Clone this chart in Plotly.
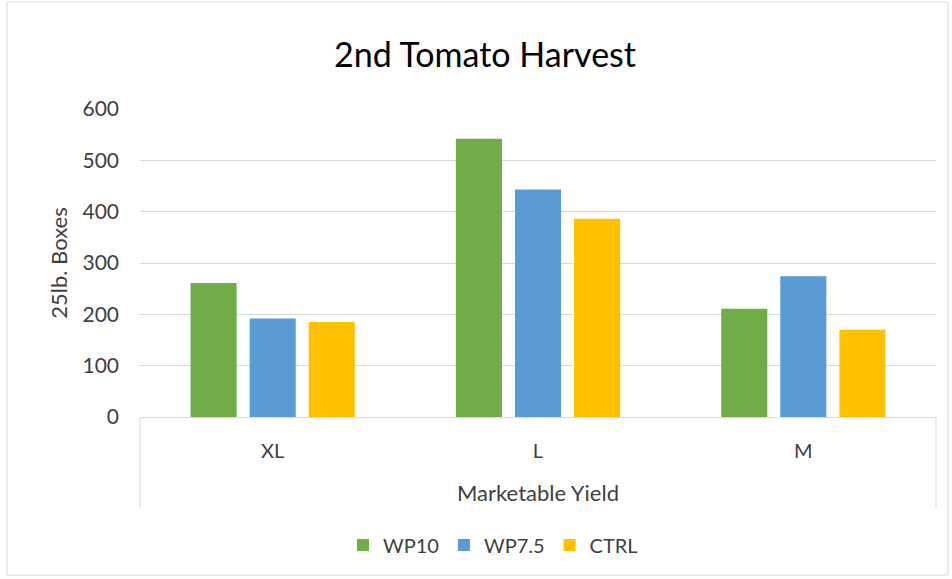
import plotly.graph_objects as go

categories = ["XL", "L", "M"]
series_names = ["WP10", "WP7.5", "CTRL"]
wp10 = [261, 542, 211]
wp75 = [192, 443, 274]
ctrl = [185, 386, 170]
colors = ["#70AD47", "#5B9BD5", "#FFC000"]
y_ticks = [0, 100, 200, 300, 400, 500, 600]

font_family = "Lato, Open Sans, Arial"
text_color = "#404040"

L, R, T, B = 140, 936, 109, 417
W, H = 952, 579
pw, ph = R - L, B - T

def px(xp):
    return (xp - L) / pw

def py(yp):
    return (B - yp) / ph

fig = go.Figure()
for name, vals, col in zip(series_names, [wp10, wp75, ctrl], colors):
    fig.add_trace(go.Bar(x=categories, y=vals, name=name, marker=dict(color=col, line=dict(width=0))))

fig.update_layout(
    width=W, height=H,
    margin=dict(l=L, r=W - R, t=T, b=H - B, autoexpand=False),
    paper_bgcolor="white", plot_bgcolor="white",
    barmode="group", bargap=0.332, bargroupgap=0.22,
    font=dict(family=font_family, color=text_color, size=20),
    title=dict(text="2nd Tomato Harvest", x=485 / W, xref="container", xanchor="center",
               y=1 - 55 / H, yref="container", yanchor="middle",
               font=dict(size=34, color="#000000", family=font_family)),
    legend=dict(orientation="h", x=px(493), xanchor="center", y=py(545), yanchor="middle",
                font=dict(size=20, color=text_color), traceorder="normal"),
    xaxis=dict(type="category", showline=True, linecolor="#d9d9d9", linewidth=1,
               ticks="", tickfont=dict(size=20, color=text_color), ticklabelstandoff=16,
               automargin=False,
               title=dict(text="Marketable Yield", font=dict(size=22, color=text_color), standoff=24)),
    yaxis=dict(range=[0, 600], tickvals=y_ticks, showgrid=True, gridcolor="#d9d9d9", gridwidth=1,
               zeroline=False, ticks="", tickfont=dict(size=21, color=text_color), automargin=False,
               ticklabelstandoff=20,
               title=dict(text="25lb. Boxes", font=dict(size=22, color=text_color), standoff=8)),
    shapes=[
        dict(type="rect", xref="paper", yref="paper", x0=px(7), x1=px(948),
             y0=py(575), y1=py(2), line=dict(color="#d9d9d9", width=1), fillcolor="rgba(0,0,0,0)"),
        dict(type="line", xref="paper", yref="paper", x0=0, x1=0, y0=0, y1=py(508),
             line=dict(color="#d9d9d9", width=1)),
        dict(type="line", xref="paper", yref="paper", x0=1, x1=1, y0=0, y1=py(508),
             line=dict(color="#d9d9d9", width=1)),
    ],
)

fig.write_html("out.html", config={"displayModeBar": False},
               post_script="document.body.style.margin='0';")
